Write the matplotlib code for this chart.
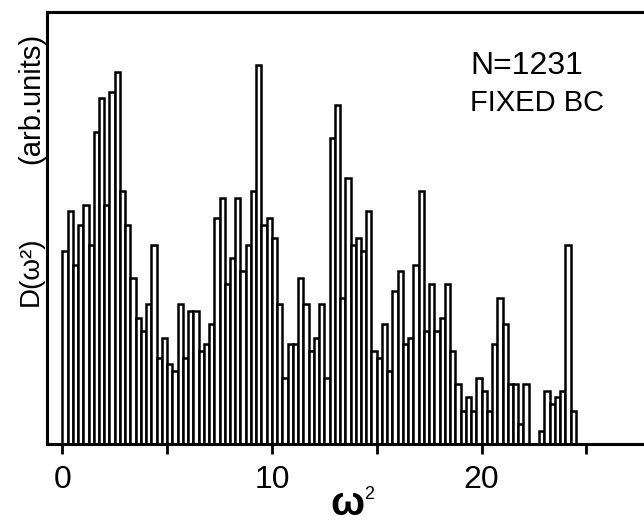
import numpy as np
import matplotlib
matplotlib.use("Agg")
import matplotlib.pyplot as plt

# histogram of squared frequencies, bins of 0.25 starting at 0
bin_start = 0.0
bin_width = 0.25
counts = [29, 35, 27, 33, 36, 30, 47, 52, 36, 53,
          56, 38, 33, 25, 19, 17, 21, 30, 13, 16,
          12, 11, 21, 13, 20, 20, 14, 15, 18, 34,
          37, 24, 28, 37, 26, 30, 38, 57, 33, 34,
          31, 21, 10, 15, 15, 25, 21, 14, 16, 21,
          10, 46, 51, 22, 40, 30, 31, 29, 35, 14,
          13, 18, 11, 23, 26, 15, 16, 27, 38, 17,
          24, 17, 19, 24, 14, 9, 5, 7, 5, 10,
          8, 5, 15, 22, 18, 9, 9, 3, 9, 0,
          0, 2, 8, 6, 7, 8, 30, 5]
xticks = [0, 5, 10, 15, 20, 25]
xticklabels = ['0', '', '10', '', '20', '']

plt.rcParams['font.family'] = ['Liberation Sans', 'DejaVu Sans']

W, H = 644, 524
fig = plt.figure(figsize=(W / 100, H / 100), dpi=100)
ax = fig.add_axes([47 / W, 1 - 444 / H, 597 / W, 432 / H])

edges = bin_start + bin_width * np.arange(len(counts))
ax.bar(edges, counts, width=bin_width, align='edge',
       facecolor='white', edgecolor='black', linewidth=1.8)

ax.set_xlim(-0.73, 27.75)
ax.set_ylim(0, 65)
ax.set_xticks(xticks)
ax.set_xticklabels(xticklabels)
ax.set_yticks([])
ax.tick_params(axis='x', direction='out', length=7, width=2,
               labelsize=23, pad=8)
for side in ['left', 'bottom', 'top']:
    ax.spines[side].set_linewidth(2.2)
ax.spines['right'].set_visible(False)

fig.text(470 / W, 1 - 74 / H, 'N=1231', fontsize=23, ha='left', va='baseline')
fig.text(470 / W, 1 - 111 / H, 'FIXED BC', fontsize=21, ha='left', va='baseline')

# x label: omega squared
fig.text(347 / W, 1 / H, 'ω', fontsize=29, fontweight='bold',
         ha='center', va='bottom')
fig.text(364 / W, 1 - 499 / H, '2', fontsize=13, ha='left', va='baseline')

# y label in two parts
fig.text(31 / W, 1 - 98 / H, '(arb.units)', fontsize=21, rotation=90,
         ha='center', va='center')
fig.text(31 / W, 1 - 271 / H, 'D(ω²)', fontsize=20, rotation=90,
         ha='center', va='center')

fig.savefig('out.png', dpi=100)
